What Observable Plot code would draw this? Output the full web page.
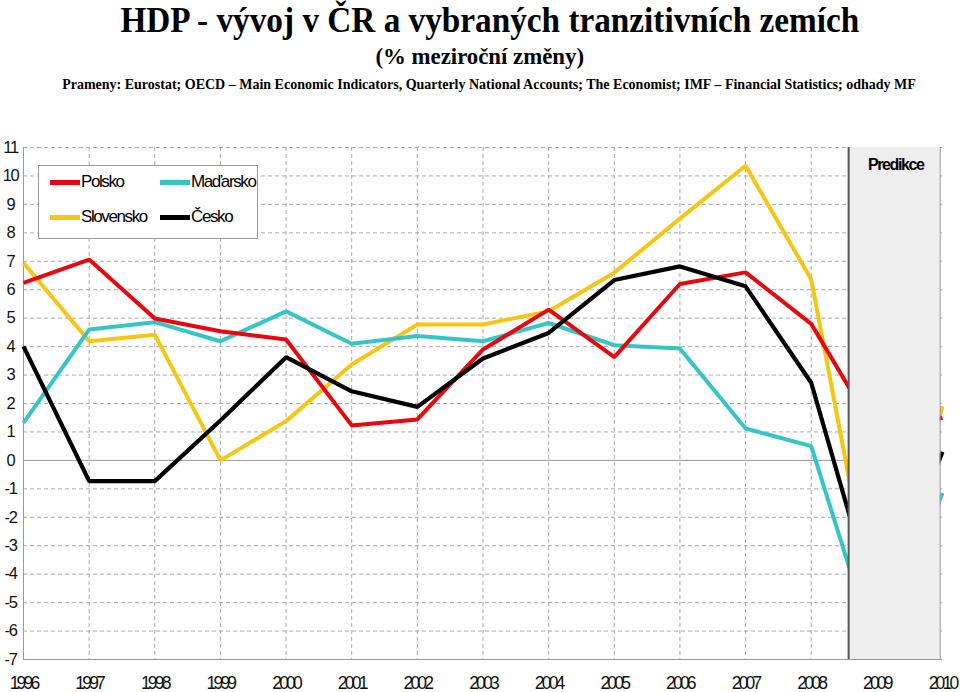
<!DOCTYPE html>
<html>
<head>
<meta charset="utf-8">
<script src="https://cdn.jsdelivr.net/npm/d3@7"></script>
<script src="https://cdn.jsdelivr.net/npm/@observablehq/plot@0.6"></script>
<style>
  body { margin: 0; background: #fff; }
  #wrap { position: relative; width: 960px; height: 692px; overflow: hidden; }
  #head { position: relative; height: 100px; }
  .t { position: absolute; width: 960px; text-align: center; font-family: "Liberation Serif", "Times New Roman", serif; font-weight: bold; color: #000; white-space: nowrap; line-height: 1; }
  .t span { display: inline-block; transform-origin: 50% 50%; }
  #title { top: 3px; left: 10px; font-size: 35px; }
  #title span { transform: scaleX(0.95); }
  #sub { top: 44px; left: 0; font-size: 24px; }
  #sub span { transform: scaleX(0.95); }
  #src { top: 78px; left: 9px; font-size: 14px; }
  #legend { position: absolute; left: 38px; top: 165px; width: 218px; height: 72px; border: 1px solid #999; background: #fff; font-family: "Liberation Sans", Arial, sans-serif; font-size: 17px; letter-spacing: -1.4px; }
  .it { position: absolute; display: flex; align-items: center; height: 20px; }
  .sw { width: 30px; height: 5px; margin-right: 1px; }
  g[aria-label="x-axis tick label"] text { letter-spacing: -2.8px; }
  g[aria-label="y-axis tick label"] text { letter-spacing: -1.4px; }
  .pred { letter-spacing: -1.4px; }
</style>
</head>
<body>
<div id="wrap">
  <div id="head">
    <div class="t" id="title"><span>HDP - vývoj v ČR a vybraných tranzitivních zemích</span></div>
    <div class="t" id="sub"><span>(% meziroční změny)</span></div>
    <div class="t" id="src"><span>Prameny: Eurostat; OECD – Main Economic Indicators, Quarterly National Accounts; The Economist; IMF – Financial Statistics; odhady MF</span></div>
  </div>
  <div id="chart"></div>
  <div id="legend"></div>
</div>
<script>
const years = [1996, 1997, 1998, 1999, 2000, 2001, 2002, 2003, 2004, 2005, 2006, 2007, 2008, 2009, 2010];
const polsko    = [6.24, 7.06, 4.99, 4.54, 4.25, 1.23, 1.44, 3.90, 5.30, 3.63, 6.20, 6.61, 4.80, 0.92, 1.50];
const madarsko  = [1.32, 4.60, 4.86, 4.19, 5.24, 4.10, 4.37, 4.19, 4.83, 4.05, 3.93, 1.12, 0.50, -6.86, -1.15];
const slovensko = [6.94, 4.19, 4.42, 0.00, 1.38, 3.37, 4.78, 4.78, 5.24, 6.60, 8.50, 10.36, 6.36, -5.79, 1.90];
const cesko     = [4.01, -0.73, -0.73, 1.40, 3.63, 2.43, 1.88, 3.58, 4.48, 6.34, 6.82, 6.12, 2.73, -5.27, 0.30];

const seriesNames = ["Polsko", "Maďarsko", "Slovensko", "Česko"];
const seriesColors = ["#e8070e", "#36c5c5", "#f6c614", "#000000"];
const seriesValues = [polsko, madarsko, slovensko, cesko];
const drawOrder = [2, 1, 0, 3];

const predStart = 2008.57, predEnd = 2009.965;
const predLabel = "Predikce";
const yTicks = d3.range(-7, 12);

const rows = (i) => years.map((y, j) => ({year: y, value: seriesValues[i][j]}));

const lineMarks = drawOrder.map(i =>
  Plot.line(rows(i), {x: "year", y: "value", stroke: seriesColors[i], strokeWidth: i === 3 ? 4.2 : 4, strokeLinejoin: "miter", strokeLinecap: "butt"})
);

const chart = Plot.plot({
  width: 960,
  height: 592,
  marginTop: 47,
  marginBottom: 33,
  marginLeft: 23,
  marginRight: 18,
  style: {fontFamily: "Liberation Sans, Arial, sans-serif", background: "transparent", color: "#111"},
  x: {domain: [1996, 2010]},
  y: {domain: [-7, 11]},
  marks: [
    Plot.ruleY(yTicks.filter(v => v !== 0 && v !== -7), {y: d => d, stroke: "#aaa", strokeDasharray: "4,3", strokeWidth: 1}),
    Plot.ruleX(years.filter(y => y > 1996 && y < 2009), {x: d => d, stroke: "#aaa", strokeDasharray: "4,3", strokeWidth: 1}),
    Plot.ruleY([0, -7], {stroke: "#999", strokeWidth: 1}),
    Plot.ruleX([1996], {stroke: "#999", strokeWidth: 1}),
    ...lineMarks,
    Plot.rect([{x1: predStart, x2: predEnd, y1: -7, y2: 11}], {x1: "x1", x2: "x2", y1: "y1", y2: "y2", fill: "#eeeeee"}),
    Plot.ruleX([predStart], {y1: -7, y2: 11, stroke: "#555", strokeWidth: 2}),
    Plot.ruleX([predEnd], {y1: -7, y2: 11, stroke: "#999", strokeWidth: 1}),
    Plot.text([predLabel], {x: (predStart + predEnd) / 2 + 0.02, y: 10.4, text: d => d, fontSize: 16, fontWeight: "bold", fill: "#000", className: "pred"}),
    Plot.axisY({ticks: yTicks, tickSize: 0, tickPadding: 13, textAnchor: "middle", fontSize: 16.5, tickFormat: d => String(d).replace("−", "-"), fill: "#111"}),
    Plot.axisX({ticks: years, tickSize: 0, tickPadding: 17, fontSize: 17.5, tickFormat: d => String(d), fill: "#111"})
  ]
});
document.getElementById("chart").appendChild(chart);

// legend
const legend = document.getElementById("legend");
const pos = [[11, 6], [121, 6], [11, 41], [121, 41]];
seriesNames.forEach((n, i) => {
  const it = document.createElement("div");
  it.className = "it";
  it.style.left = pos[i][0] + "px";
  it.style.top = pos[i][1] + "px";
  const sw = document.createElement("span");
  sw.className = "sw";
  sw.style.background = seriesColors[i];
  const tx = document.createElement("span");
  tx.textContent = n;
  it.appendChild(sw);
  it.appendChild(tx);
  legend.appendChild(it);
});
</script>
</body>
</html>
